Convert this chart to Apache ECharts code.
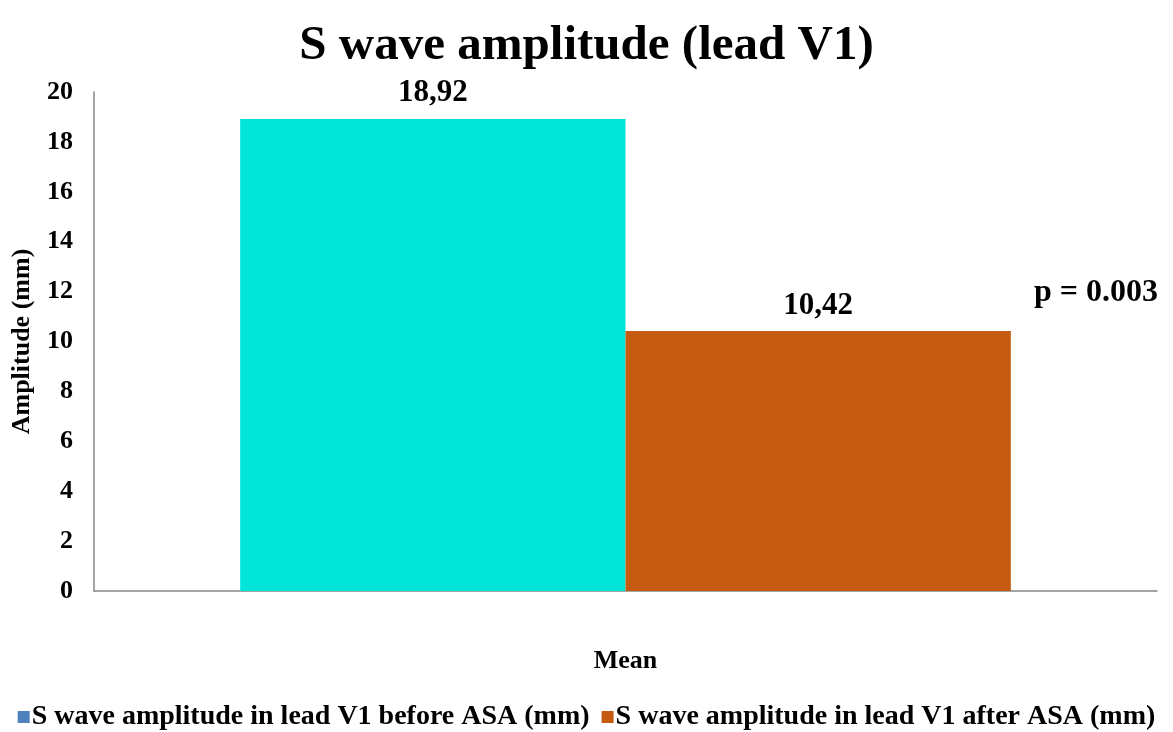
<!DOCTYPE html>
<html><head><meta charset="utf-8">
<script src="https://cdn.jsdelivr.net/npm/echarts@6/dist/echarts.min.js"></script>
<style>html,body{margin:0;padding:0;background:#fff}#c{width:1173px;height:732px}</style>
</head><body><div id="c"></div>
<script>
const categories = ['Mean'];
const seriesNames = ['S wave amplitude in lead V1 before ASA (mm)', 'S wave amplitude in lead V1 after ASA (mm)'];
const beforeValues = [18.92];
const afterValues = [10.42];
const yTicks = [0, 20, 2];
const pText = 'p = 0.003';

const font = '"Liberation Serif","Times New Roman",serif';
const chart = echarts.init(document.getElementById('c'));
const lbl = {show:true, position:'top', distance:10, fontFamily:font, fontWeight:'bold', fontSize:31, color:'#000',
  formatter: p => p.value.toFixed(2).replace('.', ',')};
chart.setOption({
  animation:false,
  title:{text:'S wave amplitude (lead V1)', left:'center', top:17, textStyle:{fontFamily:font, fontWeight:'bold', fontSize:49, color:'#000'}},
  grid:{left:94, right:16, top:92, bottom:141, containLabel:false, outerBoundsMode:'none'},
  legend:{top:698, left:'center', itemWidth:12, itemHeight:12, itemGap:12, icon:'rect',
    textStyle:{fontFamily:font, fontWeight:'bold', fontSize:28, color:'#000', padding:[0,0,0,-3]},
    data:[{name:seriesNames[0], itemStyle:{color:'#4F81BD'}}, {name:seriesNames[1], itemStyle:{color:'#C55A11'}}]},
  xAxis:{type:'category', data:categories, axisTick:{show:false},
    axisLine:{lineStyle:{color:'#868686', width:1.5}},
    axisLabel:{margin:57, fontFamily:font, fontWeight:'bold', fontSize:26, color:'#000'}},
  yAxis:{type:'value', min:yTicks[0], max:yTicks[1], interval:yTicks[2], splitLine:{show:false},
    axisLine:{show:true, lineStyle:{color:'#868686', width:1.5}}, axisTick:{show:false},
    axisLabel:{margin:21, fontFamily:font, fontWeight:'bold', fontSize:26, color:'#000'},
    name:'Amplitude (mm)', nameLocation:'middle', nameGap:59, nameRotate:90,
    nameTextStyle:{fontFamily:font, fontWeight:'bold', fontSize:26, color:'#000'}},
  series:[
    {name:seriesNames[0], type:'bar', data:beforeValues, barGap:'0%', barCategoryGap:'27.5%', itemStyle:{color:'#00E5D8'}, label:lbl},
    {name:seriesNames[1], type:'bar', data:afterValues, barGap:'0%', barCategoryGap:'27.5%', itemStyle:{color:'#C55A11'}, label:lbl}
  ],
  graphic:[{type:'text', left:1034, top:277, style:{text:pText, font:'bold 32px '+font, fill:'#000'}}]
});
</script></body></html>
